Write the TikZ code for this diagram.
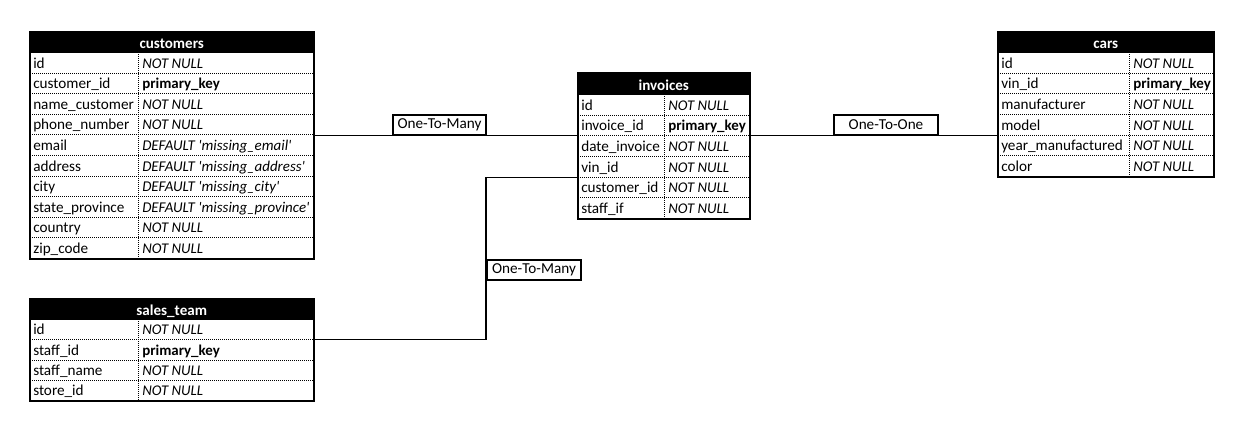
\documentclass[tikz,border=0pt]{standalone}
\usepackage{fontspec}
\setmainfont{Carlito}
\usetikzlibrary{fit}
\newcommand{\nn}{\textit{\fontsize{11.1}{15}\selectfont NOT NULL}}
\newcommand{\pk}{\textbf{\fontsize{11.2}{15}\selectfont primary\_key}}
\newcommand{\dflt}[1]{\textit{\fontsize{11.2}{15}\selectfont DEFAULT \textquotesingle missing\_#1\textquotesingle}}
\tikzset{
  tframe/.style={draw, line width=1.5pt, inner sep=0pt},
  thead/.style={fill=black, draw=black, inner sep=0pt, anchor=north west},
  ttitle/.style={text=white, font=\bfseries\fontsize{11.3}{15}\selectfont, inner sep=0pt, anchor=base},
  rowcell/.style={inner sep=0pt, anchor=north west},
  tsep/.style={line width=0.75pt, dash pattern=on 0.75pt off 0.75pt},
  tkey/.style={anchor=base west, inner sep=0pt},
  conn/.style={draw, line width=0.8pt},
  rel/.style={draw, line width=1.5pt, fill=white, inner sep=0pt, minimum height=15pt}
}
% #1 name, #2 title, #3 L, #4 R, #5 T, #6 H, #7 D, #8 row height, #9 rows
\newcommand{\ertable}[9]{%
  \node[thead, minimum width={(#4-#3)*0.75pt}, minimum height={(#6-#5)*0.75pt}] (#1-head) at (#3,#5) {};
  \node[ttitle] (#1-title) at ([yshift=3.2pt]#1-head.south) {#2};
  \foreach [count=\i] \k/\v in {#9} {
    \node[rowcell, minimum width={(#4-#3)*0.75pt}, minimum height={#8*0.75pt}] (#1-\i) at (#3,{#6+(\i-1)*#8}) {};
    \draw[tsep] (#1-\i.south west) -- (#1-\i.south east);
    \node[tkey] (#1-\i-k) at ({#3+3},{#6+\i*#8-4.5}) {\k};
    \node[tkey] (#1-\i-v) at ({#7+4},{#6+\i*#8-4.5}) {\v};
    \xdef\lastrow{\i}
  }
  \draw[tsep] ({#7},{#6}) -- ({#7},{#6+\lastrow*#8});
  \node[tframe, fit=(#1-head)(#1-\lastrow)] (#1) {};
}
\begin{document}
\fontsize{11.4}{15}\selectfont
\begin{tikzpicture}[x=0.75pt,y=-0.75pt]
\useasboundingbox (0,0) rectangle (1239,422);
\fill[white] (0,0) rectangle (1239,422);

\ertable{customers}{customers}{30}{313}{32}{52}{138}{20.6}{
  id/\nn,
  customer\_id/\pk,
  name\_customer/\nn,
  phone\_number/\nn,
  email/\dflt{email},
  address/\dflt{address},
  city/\dflt{city},
  state\_province/\dflt{province},
  country/\nn,
  zip\_code/\nn}

\ertable{invoices}{invoices}{578}{749}{73}{94}{664}{20.67}{
  id/\nn,
  invoice\_id/\pk,
  date\_invoice/\nn,
  vin\_id/\nn,
  customer\_id/\nn,
  staff\_if/\nn}

\ertable{cars}{cars}{998}{1213}{32}{52}{1129}{20.67}{
  id/\nn,
  vin\_id/\pk,
  manufacturer/\nn,
  model/\nn,
  year\_manufactured/\nn,
  color/\nn}

\ertable{sales}{sales\_team}{30}{313}{299}{319}{138}{20.25}{
  id/\nn,
  staff\_id/\pk,
  staff\_name/\nn,
  store\_id/\nn}

% connectors
\draw[conn] (invoices-2.south west) -- (invoices-2.south west -| customers.east);
\draw[conn] (invoices-2.south east) -- (invoices-2.south east -| cars.west);
\coordinate (r3c) at (486,259);
\draw[conn] (invoices-4.south west) -| (r3c) |- (sales-1.south east);

\node[rel, anchor=south west, minimum width=69.75pt] (r1) at (392,136) {One-To-Many};
\node[rel, anchor=south west, minimum width=78pt] (r2) at (833,136) {One-To-One};
\node[rel, anchor=north west, minimum width=70.5pt] (r3) at (r3c) {One-To-Many};
\end{tikzpicture}
\end{document}
